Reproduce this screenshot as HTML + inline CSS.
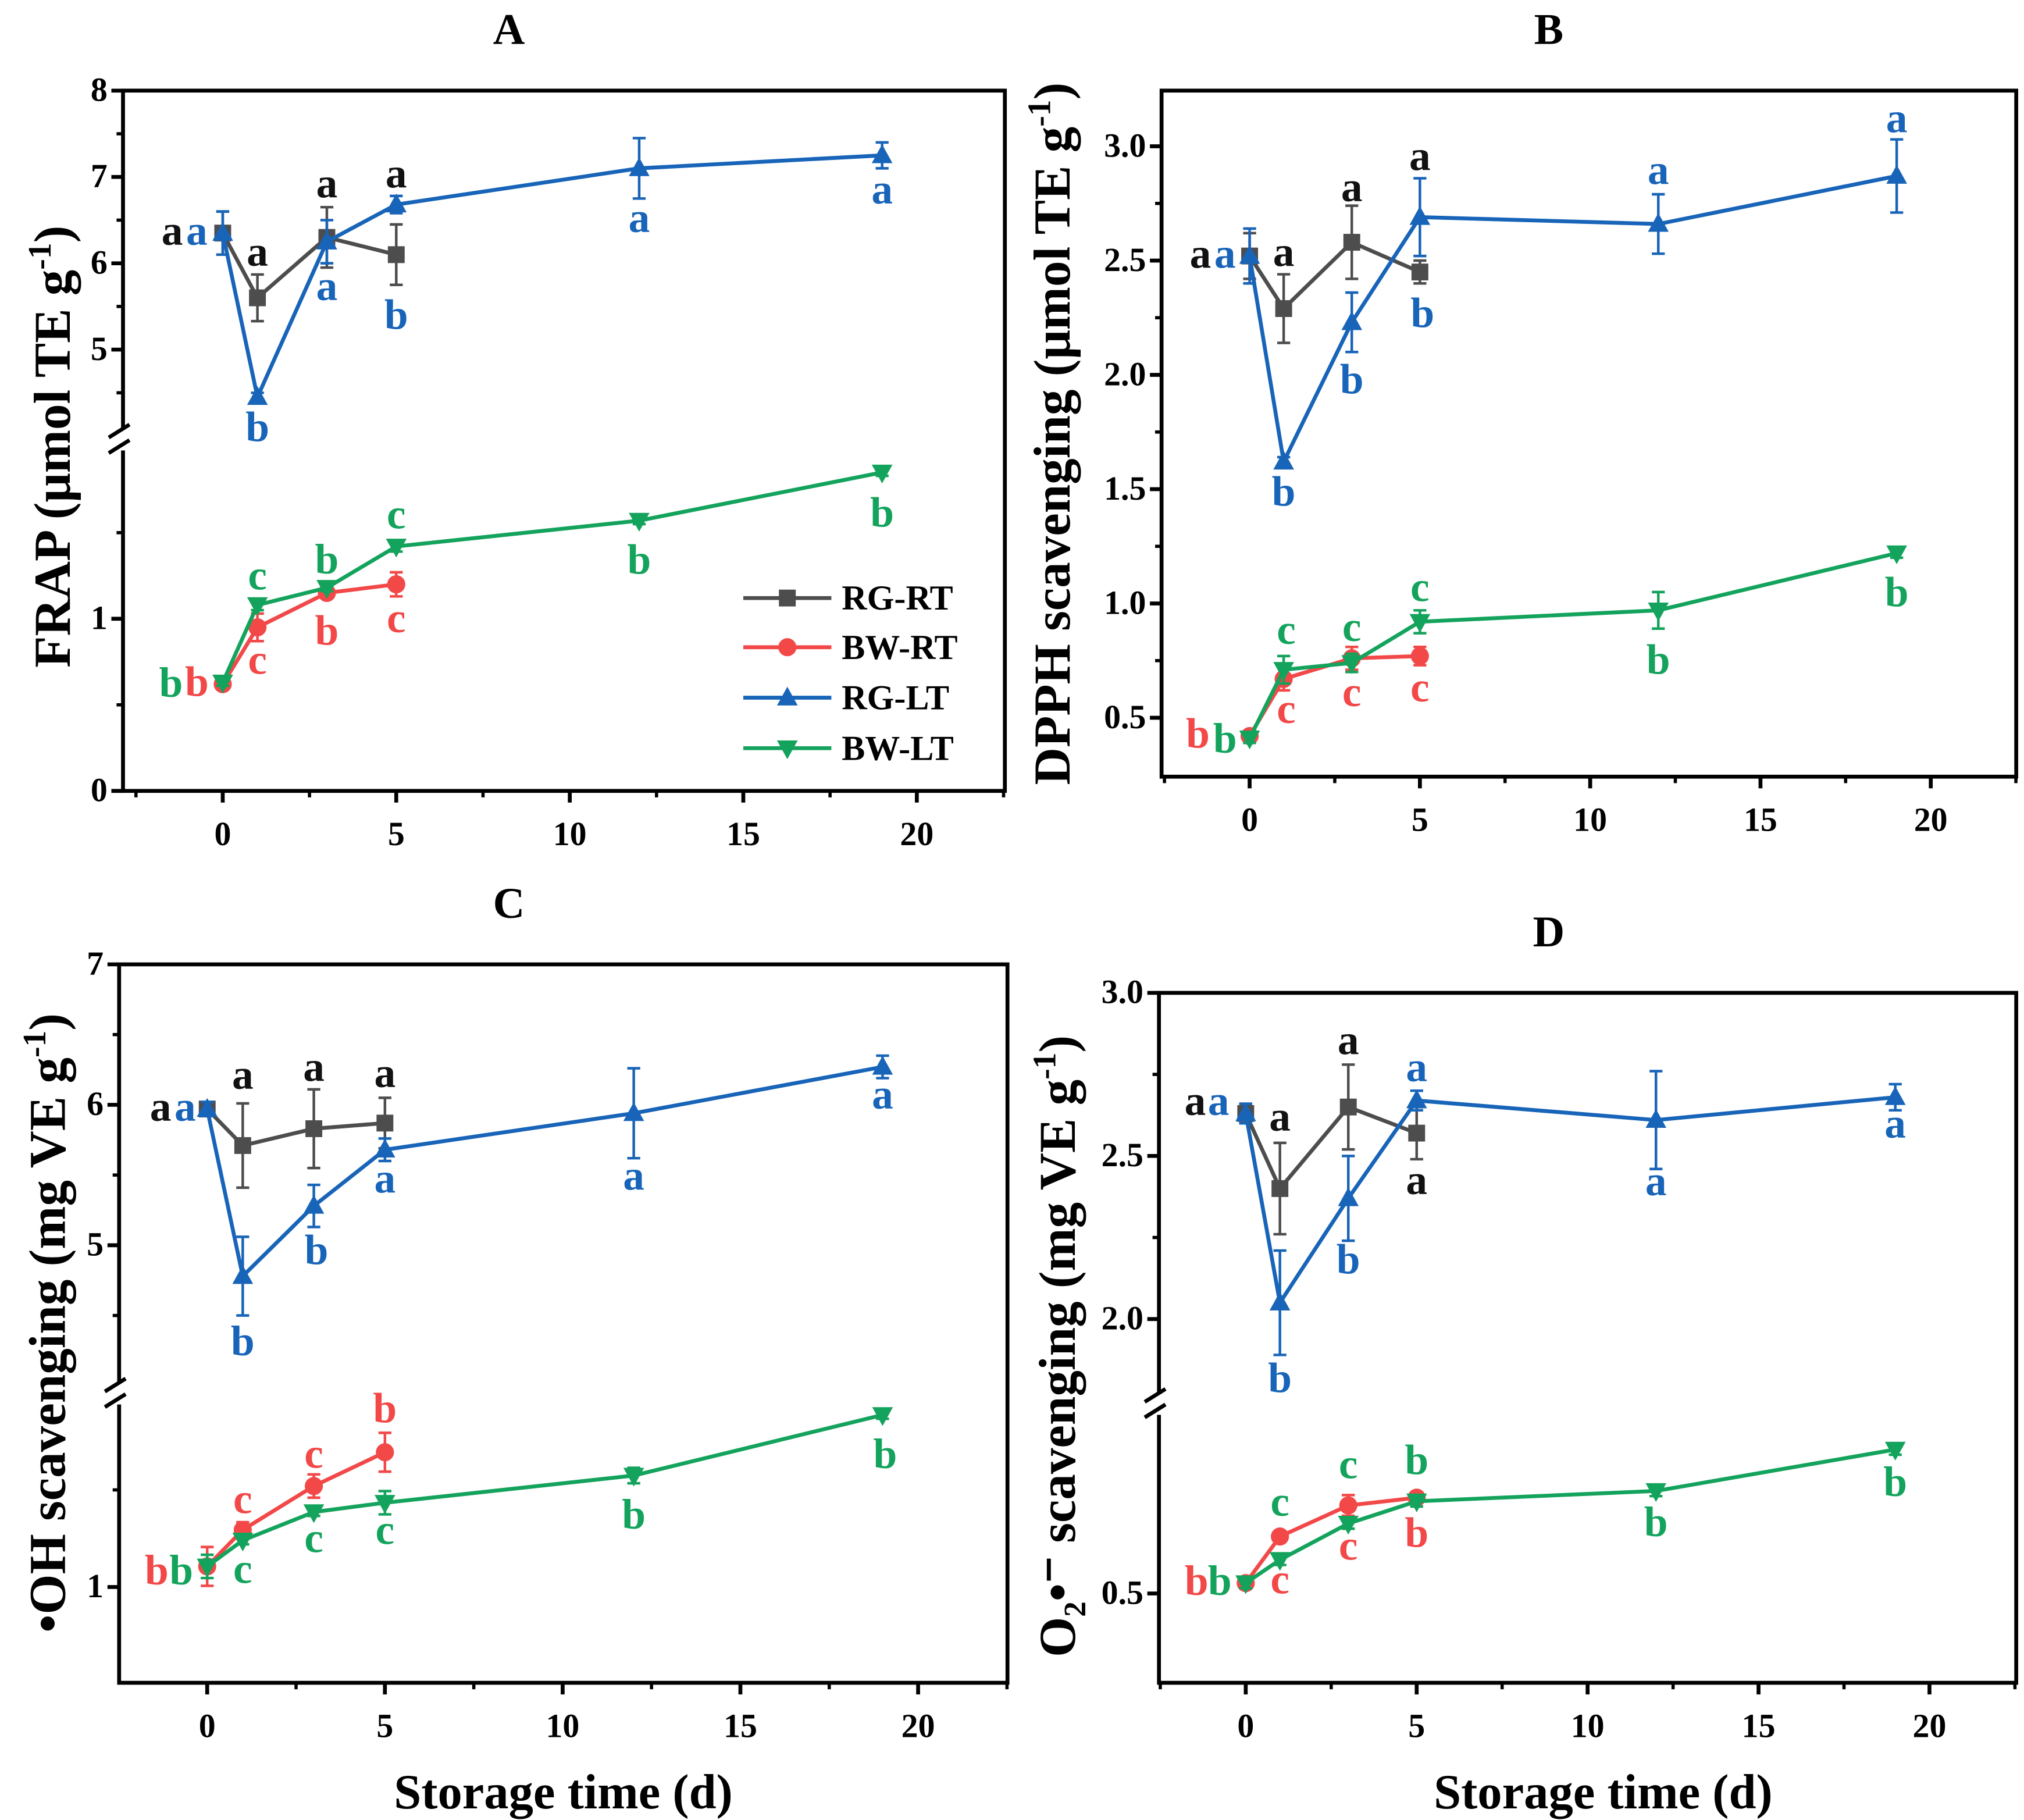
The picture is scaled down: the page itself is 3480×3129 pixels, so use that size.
<!DOCTYPE html>
<html><head><meta charset="utf-8"><style>
html,body{margin:0;padding:0;background:#fff;}
svg{display:block;}
text{font-family:"Liberation Serif",serif;font-weight:bold;}
</style></head><body>
<svg id="fig" width="3480" height="3129" viewBox="0 0 1563 1406" preserveAspectRatio="none" xmlns="http://www.w3.org/2000/svg"></svg>
<script>
// ---- data ----
const days = [0, 1, 3, 5, 12, 19];
const daysRT = [0, 1, 3, 5];
// Panel A FRAP
const A_RGRT = [6.35, 5.6, 6.3, 6.1];
const A_RGRT_err = [0.25, 0.27, 0.35, 0.35];
const A_BWRT = [0.62, 0.95, 1.15, 1.2];
const A_BWRT_err = [0.02, 0.08, 0.03, 0.07];
const A_RGLT = [6.35, 4.45, 6.25, 6.68, 7.1, 7.25];
const A_RGLT_err = [0.25, 0.05, 0.25, 0.1, 0.35, 0.15];
const A_BWLT = [0.63, 1.08, 1.18, 1.42, 1.57, 1.85];
const A_BWLT_err = [0.02, 0.03, 0.02, 0.03, 0.02, 0.02];
// Panel B DPPH
const B_RGRT = [2.52, 2.29, 2.58, 2.45];
const B_RGRT_err = [0.1, 0.15, 0.16, 0.05];
const B_BWRT = [0.42, 0.67, 0.76, 0.77];
const B_BWRT_err = [0.02, 0.05, 0.05, 0.04];
const B_RGLT = [2.52, 1.62, 2.23, 2.69, 2.66, 2.87];
const B_RGLT_err = [0.12, 0.02, 0.13, 0.17, 0.13, 0.16];
const B_BWLT = [0.41, 0.71, 0.74, 0.92, 0.97, 1.22];
const B_BWLT_err = [0.02, 0.06, 0.04, 0.05, 0.08, 0.02];
// Panel C OH
const C_RGRT = [5.97, 5.71, 5.83, 5.87];
const C_RGRT_err = [0.05, 0.3, 0.28, 0.18];
const C_BWRT = [1.053, 1.147, 1.26, 1.347];
const C_BWRT_err = [0.05, 0.02, 0.03, 0.05];
const C_RGLT = [5.97, 4.78, 5.28, 5.68, 5.94, 6.27];
const C_RGLT_err = [0.05, 0.28, 0.15, 0.08, 0.32, 0.08];
const C_BWLT = [1.053, 1.12, 1.193, 1.217, 1.287, 1.443];
const C_BWLT_err = [0.03, 0.01, 0.01, 0.03, 0.02, 0.01];
// Panel D O2
const D_RGRT = [2.63, 2.40, 2.65, 2.57];
const D_RGRT_err = [0.03, 0.14, 0.13, 0.08];
const D_BWRT = [0.52, 0.61, 0.67, 0.685];
const D_BWRT_err = [0.01, 0.01, 0.02, 0.01];
const D_RGLT = [2.63, 2.05, 2.37, 2.67, 2.61, 2.68];
const D_RGLT_err = [0.03, 0.16, 0.13, 0.03, 0.15, 0.04];
const D_BWLT = [0.52, 0.565, 0.635, 0.678, 0.698, 0.778];
const D_BWLT_err = [0.01, 0.01, 0.01, 0.01, 0.01, 0.01];
// tick labels
const xTicks = [0, 5, 10, 15, 20];
const A_yTicks = [0, 1, 5, 6, 7, 8];
const B_yTicks = [0.5, 1.0, 1.5, 2.0, 2.5, 3.0];
const C_yTicks = [1, 5, 6, 7];
const D_yTicks = [0.5, 2.0, 2.5, 3.0];
// significance letters: [series, day, dx, dy, letter]
const A_letters = [["RGRT",0,-39,9,"a"],["RGLT",0,-20,9,"a"],["RGRT",1,0,-25,"a"],["RGLT",1,0,34,"b"],["RGRT",3,0,-31,"a"],["RGLT",3,0,45,"a"],["RGRT",5,0,-52,"a"],["RGLT",5,0,96,"b"],["RGLT",12,0,49,"a"],["RGLT",19,0,37,"a"],["BWLT",0,-40,11,"b"],["BWRT",0,-20,9,"b"],["BWLT",1,0,-12,"c"],["BWRT",1,0,36,"c"],["BWLT",3,0,-11,"b"],["BWRT",3,0,40,"b"],["BWLT",5,0,-14,"c"],["BWRT",5,0,37,"c"],["BWLT",12,0,41,"b"],["BWLT",19,0,42,"b"]];
const B_letters = [["RGRT",0,-38,9,"a"],["RGLT",0,-19,9,"a"],["RGRT",1,0,-33,"a"],["RGLT",1,0,34,"b"],["RGRT",3,0,-32,"a"],["RGLT",3,0,55,"b"],["RGRT",5,0,-79,"a"],["RGLT",5,2,85,"b"],["RGLT",12,0,-31,"a"],["RGLT",19,0,-34,"a"],["BWRT",0,-40,9,"b"],["BWLT",0,-19,11,"b"],["BWLT",1,2,-20,"c"],["BWRT",1,2,34,"c"],["BWLT",3,0,-17,"c"],["BWRT",3,0,37,"c"],["BWLT",5,0,-16,"c"],["BWRT",5,0,35,"c"],["BWLT",12,0,49,"b"],["BWLT",19,0,41,"b"]];
const C_letters = [["RGRT",0,-36,9,"a"],["RGLT",0,-17,9,"a"],["RGRT",1,0,-44,"a"],["RGLT",1,0,61,"b"],["RGRT",3,0,-37,"a"],["RGLT",3,2,45,"b"],["RGRT",5,0,-28,"a"],["RGLT",5,0,33,"a"],["RGLT",12,0,59,"a"],["RGLT",19,0,32,"a"],["BWRT",0,-39,14,"b"],["BWLT",0,-20,14,"b"],["BWRT",1,0,-13,"c"],["BWLT",1,0,33,"c"],["BWRT",3,0,-14,"c"],["BWLT",3,0,31,"c"],["BWRT",5,0,-23,"b"],["BWLT",5,0,32,"c"],["BWLT",12,0,41,"b"],["BWLT",19,2,41,"b"]];
const D_letters = [["RGRT",0,-39,1,"a"],["RGLT",0,-21,1,"a"],["RGRT",1,0,-45,"a"],["RGLT",1,0,69,"b"],["RGRT",3,0,-41,"a"],["RGLT",3,0,58,"b"],["RGRT",5,0,47,"a"],["RGLT",5,0,-15,"a"],["RGLT",12,0,58,"a"],["RGLT",19,0,31,"a"],["BWRT",0,-38,9,"b"],["BWLT",0,-20,9,"b"],["BWLT",1,0,-34,"c"],["BWRT",1,0,44,"c"],["BWLT",3,0,-35,"c"],["BWRT",3,0,42,"c"],["BWLT",5,0,-21,"b"],["BWRT",5,0,38,"b"],["BWLT",12,0,35,"b"],["BWLT",19,0,36,"b"]];

const colors = {RGRT:"#4d4d4d", BWRT:"#f24848", RGLT:"#1864b8", BWLT:"#14a35c"};
const letterColors = {RGRT:"#111", BWRT:"#f24848", RGLT:"#1864b8", BWLT:"#14a35c"};
const NS = "http://www.w3.org/2000/svg";
const svg = document.getElementById("fig");
function el(tag, attrs, parent, txt){const e=document.createElementNS(NS,tag);for(const k in attrs)e.setAttribute(k,attrs[k]);if(txt!==undefined)e.textContent=txt;(parent||svg).appendChild(e);return e;}

const panels = [
 {id:"a",title:"A",tx:393,box:[95,70,776,611],x0:172,xk:26.8,upper:{v0:8,p0:70,k:66.7},lower:{v0:0,p0:611,k:133},thr:3,brk:340,
  ticks:A_yTicks,minor:[0.5,1.5,4.5,5.5,6.5,7.5],fmt:v=>String(v),
  s:{RGRT:[A_RGRT,A_RGRT_err],BWRT:[A_BWRT,A_BWRT_err],RGLT:[A_RGLT,A_RGLT_err],BWLT:[A_BWLT,A_BWLT_err]},letters:A_letters,
  ytitle:["FRAP (μmol TE g","-1",")"],ytx:54,yty:345,xtitle:false,legend:true},
 {id:"b",title:"B",tx:1196,box:[897,70,1557,600],x0:965,xk:26.3,upper:{v0:3,p0:113,k:176.6},lower:null,thr:-99,brk:null,
  ticks:B_yTicks,minor:[0.75,1.25,1.75,2.25,2.75],fmt:v=>v.toFixed(1),
  s:{RGRT:[B_RGRT,B_RGRT_err],BWRT:[B_BWRT,B_BWRT_err],RGLT:[B_RGLT,B_RGLT_err],BWLT:[B_BWLT,B_BWLT_err]},letters:B_letters,
  ytitle:["DPPH scavenging (μmol TE g","-1",")"],ytx:826,yty:335,xtitle:false,legend:false},
 {id:"c",title:"C",tx:393,box:[92,745,778,1300],x0:160,xk:27.45,upper:{v0:7,p0:745,k:108.5},lower:{v0:1,p0:1226,k:300},thr:3,brk:1077,
  ticks:C_yTicks,minor:[1.25,4.5,5.5,6.5],fmt:v=>String(v),
  s:{RGRT:[C_RGRT,C_RGRT_err],BWRT:[C_BWRT,C_BWRT_err],RGLT:[C_RGLT,C_RGLT_err],BWLT:[C_BWLT,C_BWLT_err]},letters:C_letters,
  ytitle:["•OH scavenging (mg VE g","-1",")"],ytx:50,yty:1022,xtitle:true,legend:false},
 {id:"d",title:"D",tx:1196,box:[895,767,1557,1300],x0:962,xk:26.4,upper:{v0:3,p0:767,k:252},lower:{v0:0.5,p0:1231,k:400},thr:1.5,brk:1085,
  ticks:D_yTicks,minor:[2.25,2.75],fmt:v=>v.toFixed(1),
  s:{RGRT:[D_RGRT,D_RGRT_err],BWRT:[D_BWRT,D_BWRT_err],RGLT:[D_RGLT,D_RGLT_err],BWLT:[D_BWLT,D_BWLT_err]},letters:D_letters,
  ytitle:["O₂•⁻ scavenging (mg VE g","-1",")"],ytx:830,yty:1040,xtitle:true,legend:false}
];

function marker(g, key, x, y){
  const c = colors[key];
  if(key==="RGRT") return el("rect",{x:x-6.5,y:y-6.5,width:13,height:13,fill:c},g);
  if(key==="BWRT") return el("circle",{cx:x,cy:y,r:7,fill:c},g);
  if(key==="RGLT") return el("polygon",{points:`${x},${y-8.5} ${x-8},${y+6} ${x+8},${y+6}`,fill:c},g);
  return el("polygon",{points:`${x},${y+8.5} ${x-8},${y-6} ${x+8},${y-6}`,fill:c},g);
}

panels.forEach(p=>{
  const g = el("g",{});
  
  
  const [L,T,R,B] = p.box;
  const X = v => p.x0 + v*p.xk;
  const Y = v => (p.lower && v < p.thr) ? p.lower.p0 - (v-p.lower.v0)*p.lower.k : p.upper.p0 - (v-p.upper.v0)*p.upper.k;
  const t = el("text",{x:p.tx,y:T-36,"font-size":34,"text-anchor":"middle",fill:"#000"},g,p.title);
  
  
  const fr = el("rect",{x:L,y:T,width:R-L,height:B-T,fill:"none",stroke:"#000","stroke-width":3},g);
  
  
  if(p.brk){
    el("rect",{x:L-12,y:p.brk-8,width:24,height:16,fill:"#fff"},g);
    el("line",{x1:L-11,y1:p.brk-2,x2:L+5,y2:p.brk-12,stroke:"#000","stroke-width":3},g);
    el("line",{x1:L-11,y1:p.brk+10,x2:L+5,y2:p.brk,stroke:"#000","stroke-width":3},g);
  }
  xTicks.forEach(v=>{
    el("line",{x1:X(v),y1:B,x2:X(v),y2:B+9,stroke:"#000","stroke-width":3},g);
    const tl = el("text",{x:X(v),y:B+42,"font-size":26,"text-anchor":"middle"},g,String(v));
    
    
  });
  [-2.5,2.5,7.5,12.5,17.5,22.5].forEach(v=>{ if(X(v)>L&&X(v)<R) el("line",{x1:X(v),y1:B,x2:X(v),y2:B+5,stroke:"#000","stroke-width":2.5},g);});
  p.ticks.forEach(v=>{
    el("line",{x1:L-9,y1:Y(v),x2:L,y2:Y(v),stroke:"#000","stroke-width":3},g);
    const tl = el("text",{x:L-12,y:Y(v)+8,"font-size":26,"text-anchor":"end"},g,p.fmt(v));
    
    
  });
  p.minor.forEach(v=>el("line",{x1:L-5,y1:Y(v),x2:L,y2:Y(v),stroke:"#000","stroke-width":2.5},g));
  const yt = el("text",{transform:`translate(${p.ytx},${p.yty}) rotate(-90)`,"font-size":40,"text-anchor":"middle"},g);
  
  
  el("tspan",{},yt,p.ytitle[0]);
  el("tspan",{dy:-15,"font-size":25},yt,p.ytitle[1]);
  el("tspan",{dy:15},yt,p.ytitle[2]);
  if(p.xtitle){
    const xt = el("text",{x:p.tx+42,y:1397,"font-size":38,"text-anchor":"middle"},g,"Storage time (d)");
    
    
  }
  ["RGRT","BWRT","RGLT","BWLT"].forEach(key=>{
    const [vals,errs] = p.s[key];
    const xs = key.endsWith("RT") ? daysRT : days;
    const sg = el("g",{},g);
    
    
    const pts = vals.map((v,i)=>`${X(xs[i])},${Y(v)}`).join(" ");
    el("polyline",{points:pts,fill:"none",stroke:colors[key],"stroke-width":3},sg);
    vals.forEach((v,i)=>{
      const x=X(xs[i]), y1=Y(v+errs[i]), y2=Y(v-errs[i]);
      el("line",{x1:x,y1:y1,x2:x,y2:y2,stroke:colors[key],"stroke-width":2},sg);
      el("line",{x1:x-5,y1:y1,x2:x+5,y2:y1,stroke:colors[key],"stroke-width":2},sg);
      el("line",{x1:x-5,y1:y2,x2:x+5,y2:y2,stroke:colors[key],"stroke-width":2},sg);
      const m = marker(sg,key,x,Y(v));
      
      
    });
  });
  p.letters.forEach(([key,day,dx,dy,txt])=>{
    const xs = key.endsWith("RT") ? daysRT : days;
    const i = xs.indexOf(day);
    const v = p.s[key][0][i];
    const lt = el("text",{x:X(day)+dx,y:Y(v)+dy,"font-size":33,"text-anchor":"middle",fill:letterColors[key]},g,txt);
    
    
  });
  if(p.legend){
    const lg = el("g",{},g);
    
    
    [["RGRT","RG-RT",462],["BWRT","BW-RT",500],["RGLT","RG-LT",539],["BWLT","BW-LT",578]].forEach(([k,lab,y])=>{
      const e = el("g",{},lg);
      
      
      el("line",{x1:574,y1:y,x2:642,y2:y,stroke:colors[k],"stroke-width":3},e);
      marker(e,k,608,y);
      el("text",{x:650,y:y+9,"font-size":27},e,lab);
    });
  }
});
</script>
</body></html>
